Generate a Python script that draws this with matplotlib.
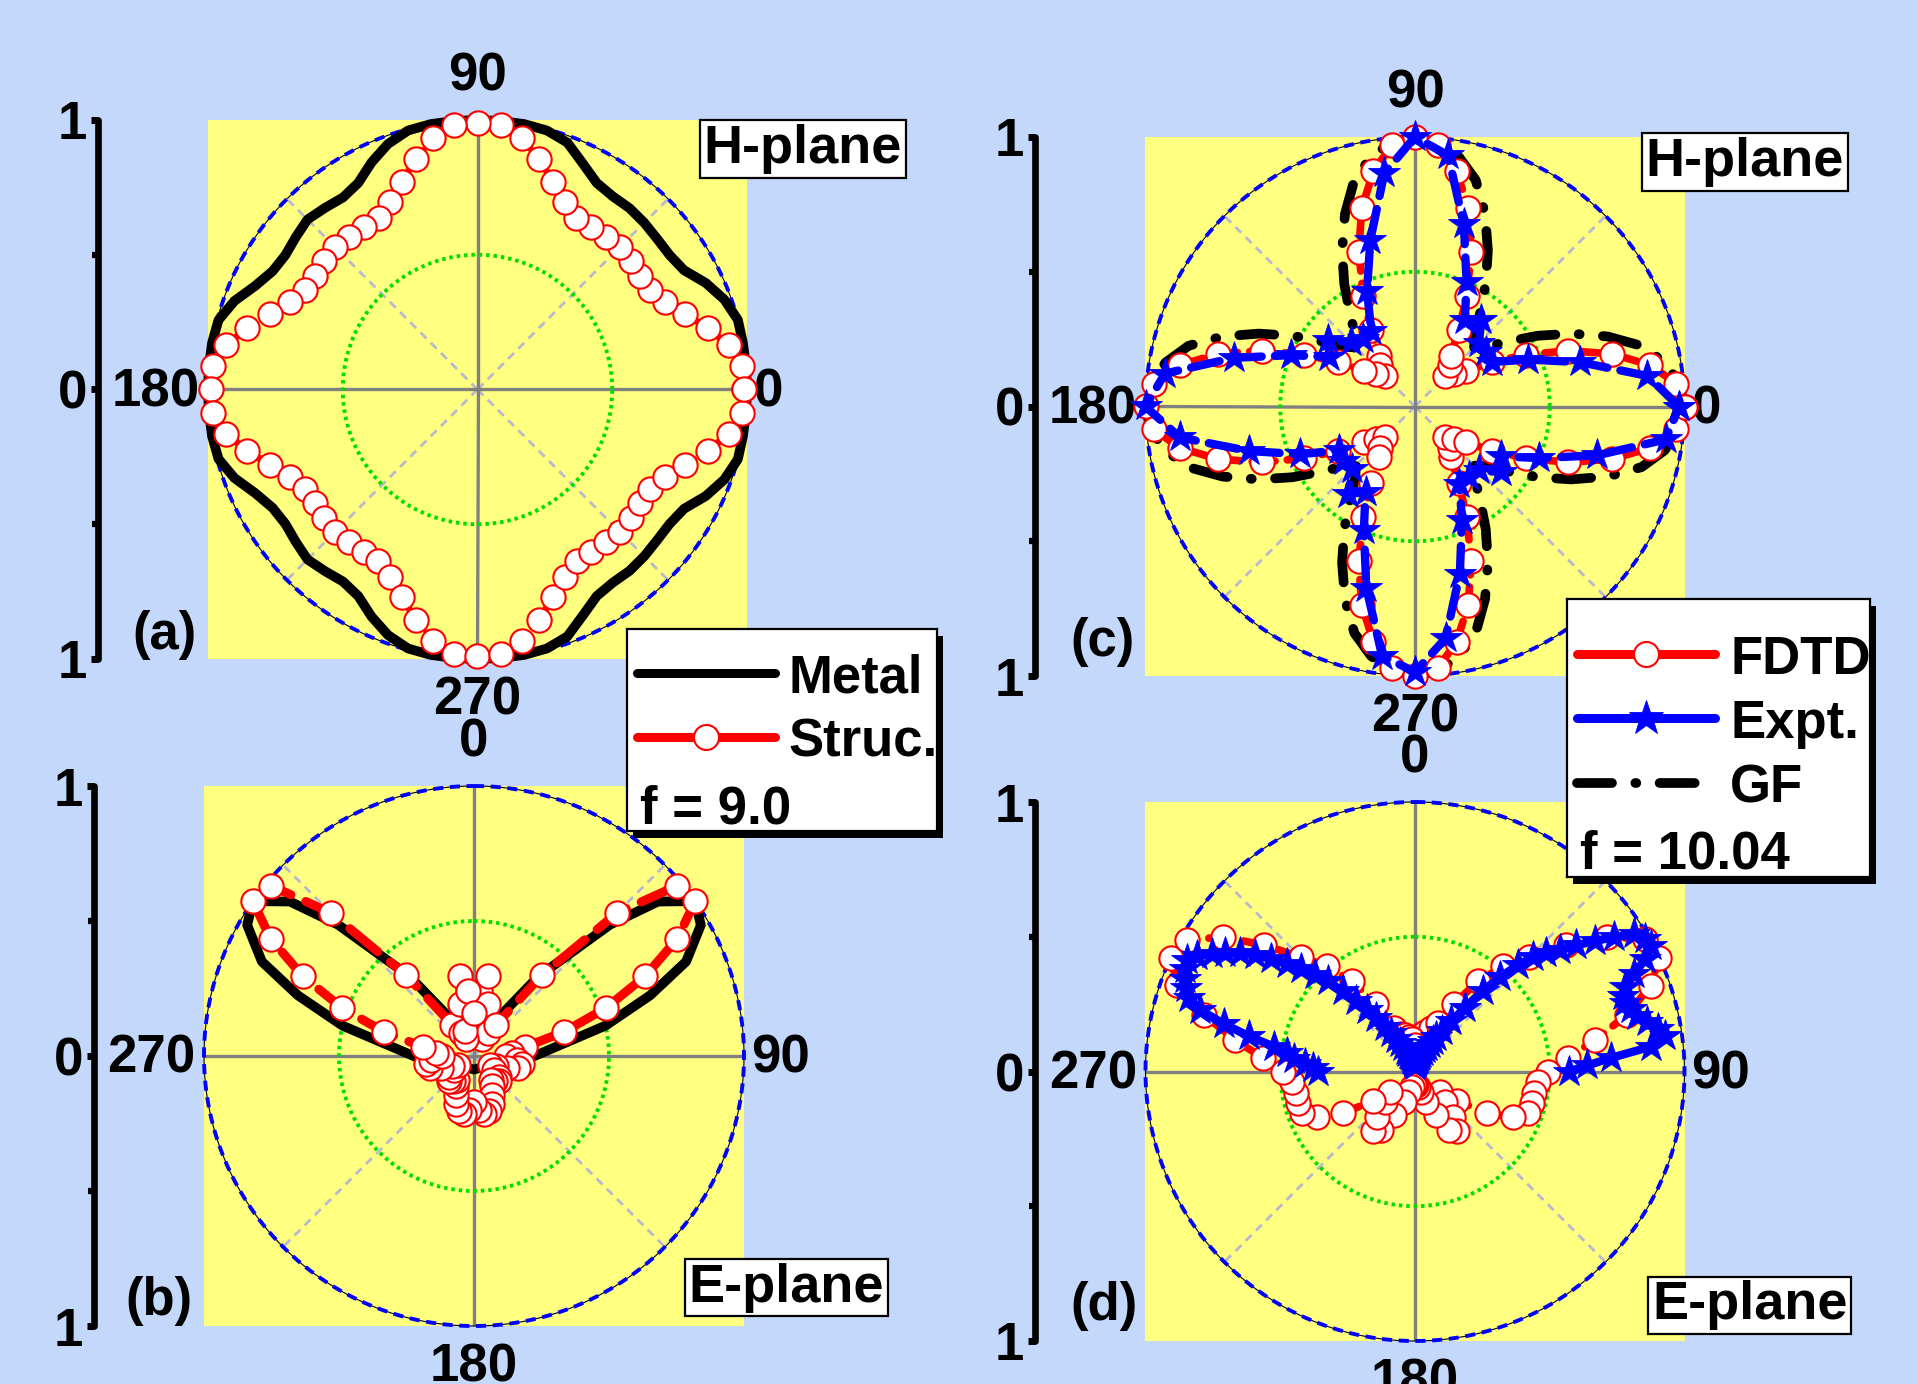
import numpy as np
import matplotlib
matplotlib.use("Agg")
import matplotlib.pyplot as plt
from matplotlib.patches import Rectangle

plt.rcParams["font.family"] = ["Liberation Sans", "DejaVu Sans"]
plt.rcParams["font.weight"] = "bold"
FS = 38

# ---------------------------------------------------------------- data
# (a) H-plane, f = 9.0 : normalised pattern vs. angle (deg)
ang_a = np.arange(0, 360, 5)
metal_a = [1.00, 1.00, 1.00, 1.00, 0.975, 0.935, 0.885, 0.87, 0.87, 0.875, 0.878, 0.875, 0.885, 0.925, 0.975, 0.995, 1.00, 1.00,
           1.00, 1.00, 1.00, 0.995, 0.97, 0.93, 0.885, 0.87, 0.88, 0.892, 0.88, 0.87, 0.878, 0.91, 0.96, 0.995, 1.00, 1.00,
           1.00, 1.00, 1.00, 0.995, 0.96, 0.91, 0.878, 0.87, 0.88, 0.892, 0.88, 0.87, 0.885, 0.93, 0.97, 0.995, 1.00, 1.00,
           1.00, 1.00, 1.00, 0.995, 0.975, 0.925, 0.885, 0.875, 0.878, 0.875, 0.87, 0.87, 0.885, 0.935, 0.975, 1.00, 1.00, 1.00]
struc_a = [0.99, 0.985, 0.946, 0.884, 0.818, 0.767, 0.739, 0.736, 0.744, 0.748, 0.739, 0.734, 0.734, 0.767, 0.821, 0.884, 0.946, 0.985,
           0.99, 0.985, 0.946, 0.884, 0.821, 0.767, 0.734, 0.734, 0.739, 0.748, 0.744, 0.736, 0.739, 0.767, 0.818, 0.884, 0.946, 0.985,
           0.99, 0.985, 0.946, 0.884, 0.818, 0.766, 0.738, 0.735, 0.742, 0.746, 0.740, 0.735, 0.736, 0.767, 0.820, 0.884, 0.946, 0.985,
           0.99, 0.985, 0.946, 0.884, 0.820, 0.767, 0.736, 0.734, 0.740, 0.748, 0.742, 0.736, 0.739, 0.767, 0.818, 0.884, 0.946, 0.985]

# (b) E-plane, f = 9.0
ang_b_metal = [0, 32, 39, 46, 50, 55, 60, 66, 71, 77, 93, 120, 150, 180, 210, 240,
               267, 283, 289, 294, 300, 305, 310, 314, 321, 328]
metal_b = [0.10, 0.16, 0.38, 0.70, 0.89, 1.00, 0.97, 0.86, 0.69, 0.50, 0.20, 0.07, 0.05, 0.05, 0.05, 0.07,
           0.20, 0.50, 0.69, 0.86, 0.97, 1.00, 0.89, 0.70, 0.38, 0.16]
ang_b = np.arange(0, 360, 5)
struc_b = [0.16, 0.24, 0.30, 0.20, 0.10, 0.07, 0.10, 0.14, 0.39, 0.75, 0.98, 1.00, 0.87, 0.70, 0.52, 0.345, 0.19, 0.14,
           0.12, 0.16, 0.18, 0.17, 0.13, 0.09, 0.07, 0.09, 0.12, 0.13, 0.12, 0.11, 0.13, 0.16, 0.19, 0.21, 0.22, 0.20,
           0.17, 0.20, 0.22, 0.21, 0.19, 0.16, 0.13, 0.11, 0.12, 0.13, 0.12, 0.09, 0.07, 0.09, 0.13, 0.17, 0.18, 0.16,
           0.12, 0.14, 0.19, 0.345, 0.52, 0.70, 0.87, 1.00, 0.98, 0.75, 0.39, 0.14, 0.10, 0.07, 0.10, 0.20, 0.30, 0.24]

# (c) H-plane, f = 10.04
ang_c = np.arange(0, 360, 5)
fdtd_c = [1.00, 0.973, 0.886, 0.755, 0.605, 0.455, 0.33, 0.23, 0.19, 0.16, 0.20, 0.23, 0.326, 0.453, 0.611, 0.763, 0.887, 0.974,
          1.00, 0.974, 0.887, 0.763, 0.611, 0.453, 0.326, 0.23, 0.20, 0.16, 0.19, 0.23, 0.33, 0.455, 0.605, 0.755, 0.886, 0.973,
          1.00, 0.973, 0.886, 0.755, 0.605, 0.455, 0.33, 0.23, 0.19, 0.16, 0.20, 0.23, 0.326, 0.453, 0.611, 0.763, 0.887, 0.974,
          1.00, 0.974, 0.887, 0.763, 0.611, 0.453, 0.326, 0.23, 0.20, 0.16, 0.19, 0.23, 0.33, 0.455, 0.605, 0.755, 0.886, 0.973]
gf_c = [1.00, 0.985, 0.94, 0.87, 0.76, 0.64, 0.525, 0.42, 0.345, 0.31, 0.345, 0.42, 0.525, 0.64, 0.76, 0.87, 0.94, 0.985,
        1.00, 0.985, 0.94, 0.87, 0.76, 0.64, 0.525, 0.42, 0.345, 0.31, 0.345, 0.42, 0.525, 0.64, 0.76, 0.87, 0.94, 0.985,
        1.00, 0.985, 0.94, 0.87, 0.76, 0.64, 0.525, 0.42, 0.345, 0.31, 0.345, 0.42, 0.525, 0.64, 0.76, 0.87, 0.94, 0.985,
        1.00, 0.985, 0.94, 0.87, 0.76, 0.64, 0.525, 0.42, 0.345, 0.31, 0.345, 0.42, 0.525, 0.64, 0.76, 0.87, 0.94, 0.985]
ang_c_expt = np.arange(0, 360, 7.5)
expt_c = [0.98, 0.87, 0.635, 0.455, 0.33, 0.33, 0.335, 0.405, 0.37, 0.50, 0.70, 0.94,
          1.00, 0.873, 0.64, 0.465, 0.325, 0.317, 0.336, 0.407, 0.367, 0.498, 0.697, 0.936,
          1.00, 0.88, 0.638, 0.463, 0.326, 0.33, 0.328, 0.409, 0.367, 0.496, 0.697, 0.934,
          0.985, 0.868, 0.643, 0.455, 0.33, 0.33, 0.335, 0.40, 0.37, 0.50, 0.70, 0.938]

# (d) E-plane, f = 10.04
ang_d = np.arange(0, 360, 5)
fdtd_d = [0.10, 0.13, 0.14, 0.15, 0.17, 0.20, 0.29, 0.41, 0.51, 0.60, 0.73, 0.87, 0.985, 1.00, 0.93, 0.815, 0.68, 0.57,
          0.495, 0.458, 0.45, 0.45, 0.445, 0.40, 0.31, 0.19, 0.12, 0.16, 0.22, 0.27, 0.25, 0.18, 0.12, 0.08, 0.06, 0.05,
          0.05, 0.05, 0.06, 0.08, 0.12, 0.18, 0.25, 0.27, 0.22, 0.16, 0.12, 0.19, 0.31, 0.40, 0.445, 0.45, 0.45, 0.458,
          0.49, 0.566, 0.678, 0.811, 0.94, 0.998, 0.976, 0.87, 0.73, 0.60, 0.51, 0.41, 0.29, 0.18, 0.15, 0.14, 0.13, 0.12]
ang_d_expt = np.arange(-90, 91, 2)
expt_d = [0.36, 0.38, 0.41, 0.45, 0.48, 0.53, 0.63, 0.73, 0.83, 0.88,      # -90 .. -72
          0.905, 0.92, 0.935, 0.94, 0.915, 0.87, 0.83, 0.785, 0.735, 0.68,  # -70 .. -52
          0.62, 0.57, 0.515, 0.465, 0.40, 0.34, 0.29, 0.245, 0.20, 0.17,    # -50 .. -32
          0.14, 0.12, 0.10, 0.085, 0.075, 0.065, 0.06, 0.055, 0.05, 0.045,  # -30 .. -12
          0.04, 0.035, 0.03, 0.03, 0.025, 0.02, 0.025, 0.03, 0.03, 0.035,   # -10 .. 8
          0.04, 0.045, 0.05, 0.055, 0.06, 0.07, 0.08, 0.09, 0.10, 0.115,    # 10 .. 28
          0.13, 0.15, 0.18, 0.23, 0.30, 0.39, 0.47, 0.55, 0.61, 0.655,      # 30 .. 48
          0.70, 0.76, 0.825, 0.89, 0.96, 0.985, 0.99, 0.95, 0.89, 0.84,     # 50 .. 68
          0.82, 0.82, 0.835, 0.85, 0.88, 0.915, 0.935, 0.88, 0.73, 0.64,    # 70 .. 88
          0.57]                                                             # 90

# ---------------------------------------------------------------- style
BG = "#C4D8FC"
YELLOW = "#FFFF80"
W, H = 1918, 1384

fig = plt.figure(figsize=(W / 100, H / 100), dpi=100, facecolor=BG)


def closed(angles, values):
    t = np.deg2rad(np.append(np.asarray(angles, float), angles[0]))
    return t, np.append(np.asarray(values, float), values[0])


def polar_panel(rect, eplane, letter, letter_xy, plane, plane_xy):
    base = fig.add_axes(rect, zorder=0)
    base.set_facecolor(YELLOW)
    base.set_xlim(-1, 1)
    base.set_ylim(-1, 1)
    base.set_xticks([])
    for side in ("top", "right", "bottom"):
        base.spines[side].set_visible(False)
    sp = base.spines["left"]
    sp.set_position(("outward", 79))
    sp.set_linewidth(4.8)
    sp.set_capstyle("round")
    base.set_yticks([-1, 0, 1], labels=["1", "0", "1"])
    base.set_yticks([-0.5, 0.5], minor=True)
    base.tick_params(axis="y", which="major", direction="out", length=5, width=5,
                     pad=3, labelsize=FS)
    base.tick_params(axis="y", which="minor", direction="out", length=4, width=4.5)

    ax = fig.add_axes(rect, projection="polar", zorder=1)
    ax.patch.set_visible(False)
    if eplane:
        ax.set_theta_zero_location("N")
        ax.set_theta_direction(-1)
    ax.set_ylim(0, 1)
    ax.set_xticks([])
    ax.set_yticks([])
    ax.grid(False)
    ax.spines["polar"].set_visible(False)

    # grid: dashed diagonals, solid principal axes, rings at 0.5 and 1
    for d in (45, 135, 225, 315):
        ax.plot([np.deg2rad(d)] * 2, [0, 1], color="#B8B8CE", lw=2,
                dashes=(3, 2.2), zorder=1)
    for d in (0, 90, 180, 270):
        ax.plot([np.deg2rad(d)] * 2, [0, 1], color="#808080", lw=2.4, zorder=1.5)
    ring = np.linspace(0, 2 * np.pi, 721)
    ax.plot(ring, np.full_like(ring, 0.5), color="#00E000", lw=2.8,
            ls=(0, (0.9, 1.0)), zorder=2)
    ax.plot(ring, np.ones_like(ring), color="black", lw=0.8, zorder=2, clip_on=False)
    ax.plot(ring, np.ones_like(ring), color="blue", lw=2.8, dashes=(2.6, 1.7),
            zorder=2.1, clip_on=False)

    if eplane:
        where = {0: "top", 180: "bottom", 270: "left", 90: "right"}
    else:
        where = {90: "top", 270: "bottom", 180: "left", 0: "right"}
    style = {"top": ((0, 21), "center", "baseline"),
             "bottom": ((0, -12), "center", "top"),
             "left": ((-6, 2), "right", "center_baseline"),
             "right": ((5, 2), "left", "center_baseline")}
    for deg, side in where.items():
        off, ha, va = style[side]
        ax.annotate(str(deg), xy=(np.deg2rad(deg), 1), xytext=off,
                    textcoords="offset points", ha=ha, va=va, fontsize=FS,
                    annotation_clip=False)

    ax.text(letter_xy[0], letter_xy[1], letter, transform=ax.transAxes,
            ha="left", va="center", fontsize=FS)
    ax.text(plane_xy[0], plane_xy[1], plane, transform=ax.transAxes,
            ha="center", va="center", fontsize=FS + 1, zorder=6,
            bbox=dict(boxstyle="square,pad=0.07", fc="white", ec="black", lw=1.6))
    return ax


circle_kw = dict(marker="o", ms=17.5, mfc="white", mec="red", mew=1.5)
star_kw = dict(marker="*", ms=24, mfc="blue", mec="blue", mew=0.6)

# (a)
ax_a = polar_panel([208 / W, 1 - 659 / H, 539 / W, 539 / H], False, "(a)", (-0.141, 0.045),
                   "H-plane", (1.104, 0.946))
t, r = closed(ang_a, metal_a)
ax_a.plot(t, r, color="black", lw=7, zorder=3, clip_on=False)
t, r = closed(ang_a, struc_a)
ax_a.plot(t, r, color="red", lw=5, dashes=(4, 2), dash_capstyle="round", zorder=4,
          clip_on=False, **circle_kw)

# (b)
ax_b = polar_panel([204 / W, 1 - 1326 / H, 540 / W, 540 / H], True, "(b)", (-0.146, 0.046),
                   "E-plane", (1.078, 0.071))
t, r = closed(ang_b_metal, metal_b)
ax_b.plot(t, r, color="black", lw=7, zorder=3, clip_on=False)
t, r = closed(ang_b, struc_b)
ax_b.plot(t, r, color="red", lw=6.5, dashes=(4, 1.8), dash_capstyle="round", zorder=4,
          clip_on=False, **circle_kw)

# (c)
ax_c = polar_panel([1145 / W, 1 - 676 / H, 540 / W, 539 / H], False, "(c)", (-0.139, 0.063),
                   "H-plane", (1.112, 0.954))
t, r = closed(ang_c, gf_c)
ax_c.plot(t, r, color="black", lw=7, dashes=(3.6, 2.4, 0.1, 2.4), dash_capstyle="round",
          zorder=3, clip_on=False)
t, r = closed(ang_c, fdtd_c)
ax_c.plot(t, r, color="red", lw=5.5, dashes=(3, 1.6), dash_capstyle="round", zorder=4,
          clip_on=False, **circle_kw)
t, r = closed(ang_c_expt, expt_c)
ax_c.plot(t, r, color="blue", lw=6, dashes=(3.5, 1.6), dash_capstyle="round", zorder=5,
          clip_on=False, **star_kw)

# (d)
ax_d = polar_panel([1145 / W, 1 - 1341 / H, 540 / W, 539 / H], True, "(d)", (-0.139, 0.065),
                   "E-plane", (1.121, 0.066))
t, r = closed(ang_d, fdtd_d)
ax_d.plot(t, r, color="red", lw=5.5, dashes=(3, 1.6), dash_capstyle="round", zorder=4,
          clip_on=False, **circle_kw)
ax_d.plot(np.deg2rad(ang_d_expt), expt_d, color="blue", lw=6, zorder=5, clip_on=False,
          **star_kw)


# ---------------------------------------------------------------- legends
def legend_box(left, top, width, height, entries, note, text_x):
    fig.add_artist(Rectangle(((left + 6) / W, (H - top - height - 7) / H), width / W, height / H,
                             transform=fig.transFigure, facecolor="black",
                             edgecolor="none", zorder=4))
    lg = fig.add_axes([left / W, (H - top - height) / H, width / W, height / H], zorder=5)
    lg.set_xlim(0, width)
    lg.set_ylim(0, height)
    lg.set_xticks([])
    lg.set_yticks([])
    lg.set_facecolor("white")
    for s in lg.spines.values():
        s.set_linewidth(1.6)
        s.set_edgecolor("black")
    for y, label, line_kw, mark_kw in entries:
        lg.plot([10, 148], [y, y], solid_capstyle="round", **line_kw)
        if mark_kw:
            lg.plot([79], [y], ls="none", **mark_kw)
        lg.text(text_x, y, label, ha="left", va="center_baseline", fontsize=FS)
    lg.text(13, note[0], note[1], ha="left", va="center_baseline", fontsize=FS)


leg_circle = dict(marker="o", ms=18, mfc="white", mec="red", mew=1.5)
leg_star = dict(marker="*", ms=26, mfc="blue", mec="blue", mew=0.6)

legend_box(627, 629, 310, 202,
           [(158, "Metal", dict(color="black", lw=6.5), None),
            (94, "Struc.", dict(color="red", lw=6.5), leg_circle)],
           (27, "f = 9.0"), 161)

legend_box(1567, 599, 303, 278,
           [(223, "FDTD", dict(color="red", lw=6.5), leg_circle),
            (159, "Expt.", dict(color="blue", lw=6.5), leg_star),
            (94, "GF", dict(color="black", lw=7, dashes=(3.6, 2.4, 0.1, 2.4),
                            dash_capstyle="round"), None)],
           (28, "f = 10.04"), 163)

fig.savefig("out.png", dpi=100, facecolor=fig.get_facecolor())
